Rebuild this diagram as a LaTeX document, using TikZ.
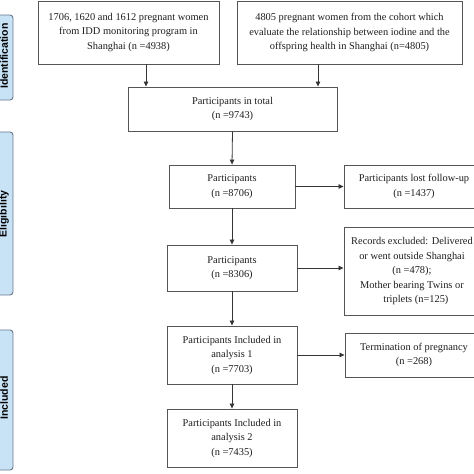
\documentclass[tikz,border=0pt]{standalone}
\usepackage{fontspec}
\setmainfont{Liberation Serif}
\newfontfamily\panelfont{Liberation Sans}
\usetikzlibrary{arrows.meta}
\definecolor{panelfill}{RGB}{200,226,246}
\definecolor{paneledge}{RGB}{105,120,142}
\definecolor{boxedge}{RGB}{85,85,85}
\definecolor{txt}{RGB}{30,30,30}
\tikzset{
  fbox/.style={draw=boxedge, line width=0.9pt, inner sep=0pt, align=center, text=txt,
    font=\fontsize{10.4}{14.5}\selectfont},
  arr/.style={draw=txt!90, line width=0.8pt, -{Triangle[length=5pt,width=4.5pt]}},
  panel/.style={draw=paneledge, fill=panelfill, line width=0.9pt, rounded corners=3pt},
  paneltext/.style={rotate=90, font=\panelfont\bfseries\fontsize{10.5}{12}\selectfont, text=black, inner sep=0pt}
}
\begin{document}
\begin{tikzpicture}[x=1pt,y=-1pt]
\useasboundingbox (0,0) rectangle (474,474);
\clip (0,0) rectangle (474,474);
% side panels
\path[panel] (-20,15) rectangle (13,100);
\path[panel] (-20,132) rectangle (13,295);
\path[panel] (-20,330) rectangle (13,470);
\node[paneltext] (p1) at (4,56) {Identification};
\node[paneltext] (p2) at (4,214) {Eligibility};
\node[paneltext] (p3) at (4,398) {Included};
% boxes
\node[fbox, minimum width=181pt, minimum height=63pt] (A) at (128.5,32.5)
  {1706, 1620 and 1612 pregnant women\\from IDD monitoring program in\\Shanghai (n =4938)};
\node[fbox, minimum width=225pt, minimum height=63pt] (B) at (349.5,32.5)
  {4805 pregnant women from the cohort which\\evaluate the relationship between iodine and the\\offspring health in Shanghai (n=4805)};
\node[fbox, minimum width=209pt, minimum height=44pt] (C) at (232.5,109)
  {Participants in total\\(n =9743)};
\node[fbox, minimum width=126pt, minimum height=43pt] (D) at (232,186.5)
  {Participants\\(n =8706)};
\node[fbox, minimum width=140pt, minimum height=43pt] (E) at (414,186.5)
  {Participants lost follow-up\\(n =1437)};
\node[fbox, minimum width=130pt, minimum height=46pt] (F) at (232,268)
  {Participants\\(n =8306)};
\node[fbox, minimum width=136pt, minimum height=88pt] (G) at (412,271)
  {Records excluded: Delivered\\or went outside Shanghai\\(n =478);\\Mother bearing Twins or\\\ \ \ triplets (n=125)};
\node[fbox, minimum width=130pt, minimum height=58pt] (H) at (232,355)
  {Participants Included in\\analysis 1\\(n =7703)};
\node[fbox, minimum width=138pt, minimum height=44pt] (I) at (414,355)
  {Termination of pregnancy\\(n =268)};
\node[fbox, minimum width=130pt, minimum height=58pt] (J) at (232,438)
  {Participants Included in\\analysis 2\\(n =7435)};
% helper x positions
\coordinate (xa) at (146,0);
\coordinate (xb) at (318,0);
% connectors
\draw[arr] (A.south -| xa) -- (C.north -| xa);
\draw[arr] (B.south -| xb) -- (C.north -| xb);
\draw[arr] (C.south) -- (D.north);
\draw[arr] (D.south) -- (F.north);
\draw[arr] (F.south) -- (H.north);
\draw[arr] (H.south) -- (J.north);
\draw[arr] (D.east) -- (E.west |- D.east);
\draw[arr] (F.east) -- (G.west |- F.east);
\draw[arr] (H.east) -- (I.west |- H.east);
\end{tikzpicture}
\end{document}
